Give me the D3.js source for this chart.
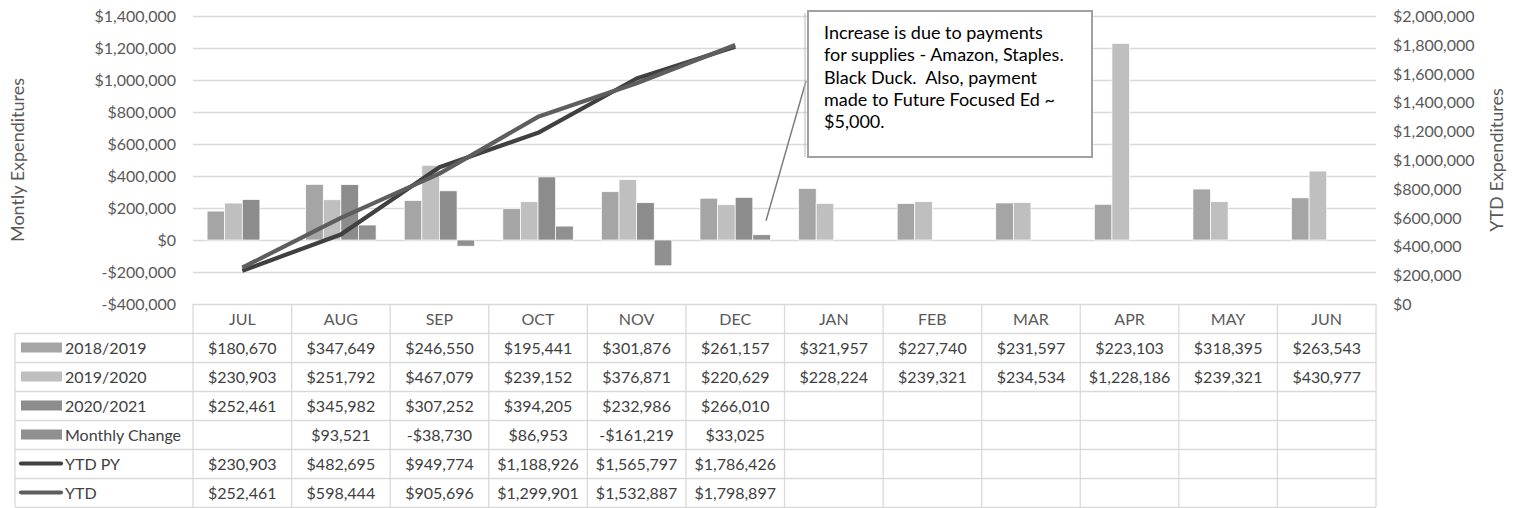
<!DOCTYPE html>
<html>
<head>
<meta charset="utf-8">
<script src="https://cdn.jsdelivr.net/npm/d3@7"></script>
<style>
  body { margin: 0; background: #fff; }
  svg { display: block; font-family: Lato, "Open Sans", sans-serif; }
</style>
</head>
<body>
<svg id="chart" width="1516" height="508"></svg>
<script>
// ── Data ──
const months = ["JUL","AUG","SEP","OCT","NOV","DEC","JAN","FEB","MAR","APR","MAY","JUN"];
const fy2018 = [180670,347649,246550,195441,301876,261157,321957,227740,231597,223103,318395,263543];
const fy2019 = [230903,251792,467079,239152,376871,220629,228224,239321,234534,1228186,239321,430977];
const fy2020 = [252461,345982,307252,394205,232986,266010,null,null,null,null,null,null];
const monthlyChange = [null,93521,-38730,86953,-161219,33025,null,null,null,null,null,null];
const ytdPY = [230903,482695,949774,1188926,1565797,1786426,null,null,null,null,null,null];
const ytd   = [252461,598444,905696,1299901,1532887,1798897,null,null,null,null,null,null];

const leftTicks  = [-400000,-200000,0,200000,400000,600000,800000,1000000,1200000,1400000];
const rightTicks = [0,200000,400000,600000,800000,1000000,1200000,1400000,1600000,1800000,2000000];

const barSeries = [
  { name: "2018/2019",      values: fy2018,        color: "#a5a5a5" },
  { name: "2019/2020",      values: fy2019,        color: "#bfbfbf" },
  { name: "2020/2021",      values: fy2020,        color: "#8c8c8c" },
  { name: "Monthly Change", values: monthlyChange, color: "#909090" }
];
const lineSeries = [
  { name: "YTD PY", values: ytdPY, color: "#404040" },
  { name: "YTD",    values: ytd,   color: "#5e5e5e" }
];

const note = ["Increase is due to payments", "for supplies - Amazon, Staples.",
              "Black Duck.  Also, payment", "made to Future Focused Ed ~", "$5,000."];

// ── Layout ──
const svg = d3.select("#chart");
const plot = { left: 193, right: 1376, top: 16, bottom: 304 };
const fmt = v => (v < 0 ? "-$" : "$") + d3.format(",")(Math.abs(v));
const fs = 16; // base font size

const x = d3.scaleBand().domain(months).range([plot.left, plot.right]);
const xs = d3.scaleBand().domain(barSeries.map(s => s.name))
  .range([0, x.bandwidth()]).paddingOuter(0.8);
const yL = d3.scaleLinear().domain([-400000, 1400000]).range([plot.bottom, plot.top]);
const yR = d3.scaleLinear().domain([0, 2000000]).range([plot.bottom, plot.top]);

// gridlines
svg.append("g").selectAll("line").data(leftTicks).join("line")
  .attr("x1", plot.left).attr("x2", plot.right)
  .attr("y1", d => yL(d) + 0.5).attr("y2", d => yL(d) + 0.5)
  .attr("stroke", "#d9d9d9").attr("stroke-width", 1.3);

// left axis labels
svg.append("g").selectAll("text").data(leftTicks).join("text")
  .attr("x", 176).attr("y", d => yL(d) + 6)
  .attr("text-anchor", "end").attr("font-size", fs).attr("fill", "#595959")
  .text(fmt);

// right axis labels
svg.append("g").selectAll("text").data(rightTicks).join("text")
  .attr("x", 1393).attr("y", d => yR(d) + 6)
  .attr("font-size", fs).attr("fill", "#595959")
  .text(fmt);

// axis titles
svg.append("text").attr("transform", "translate(24,160) rotate(-90)")
  .attr("text-anchor", "middle").attr("font-size", 18).attr("fill", "#595959")
  .text("Montly Expenditures");
svg.append("text").attr("transform", "translate(1503,160) rotate(-90)")
  .attr("text-anchor", "middle").attr("font-size", 18).attr("fill", "#595959")
  .text("YTD Expenditures");

// bars
barSeries.forEach(s => {
  svg.append("g").selectAll("rect")
    .data(s.values.map((v, i) => ({ m: months[i], v })).filter(d => d.v != null))
    .join("rect")
    .attr("x", d => x(d.m) + xs(s.name))
    .attr("width", xs.bandwidth())
    .attr("y", d => yL(Math.max(0, d.v)))
    .attr("height", d => Math.abs(yL(d.v) - yL(0)))
    .attr("fill", s.color)
    .attr("stroke", "#fff").attr("stroke-width", 0.7);
});

// lines (secondary axis)
lineSeries.forEach(s => {
  const line = d3.line()
    .defined(d => d.v != null)
    .x(d => x(d.m) + x.bandwidth() / 2)
    .y(d => yR(d.v));
  svg.append("path")
    .datum(s.values.map((v, i) => ({ m: months[i], v })))
    .attr("d", line)
    .attr("fill", "none").attr("stroke", s.color)
    .attr("stroke-width", 4.2).attr("stroke-linejoin", "round");
});

// ── Callout ──
const box = { x: 808, y: 11, w: 284, h: 146 };
const dec = monthlyChange[5];
const tipX = x("DEC") + xs("Monthly Change") + xs.bandwidth() * 0.75;
const tipY = yL(dec) - 14;
svg.append("line")
  .attr("x1", box.x - 2).attr("y1", box.y + 70)
  .attr("x2", tipX).attr("y2", tipY)
  .attr("stroke", "#7f7f7f").attr("stroke-width", 1.5);
svg.append("rect")
  .attr("x", box.x).attr("y", box.y).attr("width", box.w).attr("height", box.h)
  .attr("fill", "#fff").attr("stroke", "#a0a0a0").attr("stroke-width", 2);
svg.append("line")
  .attr("x1", box.x - 3).attr("x2", box.x - 3)
  .attr("y1", box.y + 2).attr("y2", box.y + box.h)
  .attr("stroke", "#b8b8b8").attr("stroke-width", 1);
svg.append("g").selectAll("text").data(note).join("text")
  .attr("x", box.x + 16).attr("y", (d, i) => box.y + 28 + i * 22.3)
  .attr("font-size", 18).attr("fill", "#000")
  .style("white-space", "pre")
  .text(d => d);

// ── Data table ──
const rowTop = 333, rowH = 29, legLeft = 15;
const rows = barSeries.map(s => ({ ...s, kind: "bar" }))
  .concat(lineSeries.map(s => ({ ...s, kind: "line" })));
const tbl = svg.append("g");
const gridColor = "#d9d9d9";

// header row
tbl.selectAll(".mh").data(months).join("text")
  .attr("x", d => x(d) + x.bandwidth() / 2).attr("y", plot.bottom + 21)
  .attr("text-anchor", "middle").attr("font-size", fs).attr("fill", "#595959")
  .text(d => d);

// horizontal rules
const hLines = d3.range(rows.length + 1).map(i => rowTop + i * rowH);
tbl.selectAll(".hl").data(hLines).join("line")
  .attr("x1", legLeft).attr("x2", plot.right)
  .attr("y1", d => d + 0.5).attr("y2", d => d + 0.5)
  .attr("stroke", gridColor).attr("stroke-width", 1.3);

// vertical rules
const vEdges = months.map(m => x(m)).concat([plot.right]);
tbl.selectAll(".vl").data(vEdges).join("line")
  .attr("x1", d => d).attr("x2", d => d)
  .attr("y1", plot.bottom).attr("y2", rowTop + rows.length * rowH)
  .attr("stroke", gridColor).attr("stroke-width", 1.3);
tbl.append("line")
  .attr("x1", legLeft).attr("x2", legLeft)
  .attr("y1", rowTop).attr("y2", rowTop + rows.length * rowH)
  .attr("stroke", gridColor).attr("stroke-width", 1.3);

rows.forEach((r, ri) => {
  const cy = rowTop + ri * rowH + rowH / 2;
  if (r.kind === "bar") {
    tbl.append("rect").attr("x", 21).attr("y", cy - 5).attr("width", 41).attr("height", 10)
      .attr("fill", r.color);
  } else {
    tbl.append("line").attr("x1", 21).attr("x2", 61).attr("y1", cy).attr("y2", cy)
      .attr("stroke", r.color).attr("stroke-width", 4.2).attr("stroke-linecap", "round");
  }
  tbl.append("text").attr("x", 65).attr("y", cy + 6)
    .attr("font-size", fs).attr("fill", "#404040").text(r.name);
  tbl.append("g").selectAll("text")
    .data(r.values.map((v, i) => ({ m: months[i], v })).filter(d => d.v != null))
    .join("text")
    .attr("x", d => x(d.m) + x.bandwidth() / 2).attr("y", cy + 6)
    .attr("text-anchor", "middle").attr("font-size", fs).attr("fill", "#404040")
    .text(d => fmt(d.v));
});
</script>
</body>
</html>
